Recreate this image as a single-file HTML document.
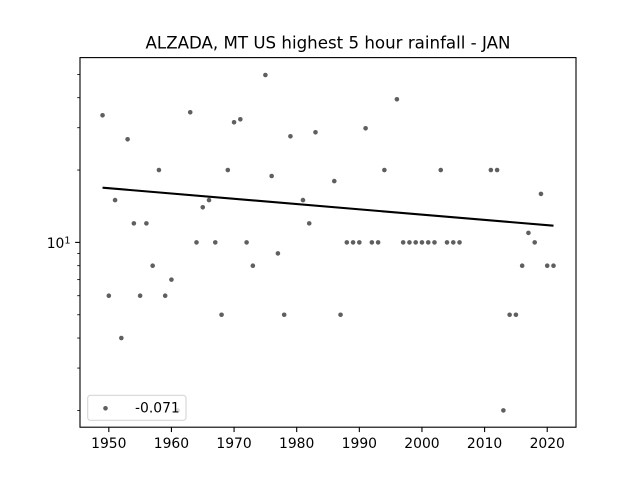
<!DOCTYPE html>
<html><head><meta charset="utf-8"><style>
html,body{margin:0;padding:0;background:#fff;}
svg{display:block;}
text{font-family:"DejaVu Sans","Liberation Sans",sans-serif;fill:#000;}
</style></head><body>
<svg width="640" height="480" viewBox="0 0 640 480" xmlns="http://www.w3.org/2000/svg">
<rect width="640" height="480" fill="#fff"/>
<text x="328" y="48.5" font-size="16.67" text-anchor="middle">ALZADA, MT US highest 5 hour rainfall - JAN</text>
<g fill="#5f5f5f">
<circle cx="102.55" cy="115.3" r="2.3"/>
<circle cx="108.81" cy="295.72" r="2.3"/>
<circle cx="115.08" cy="200.07" r="2.3"/>
<circle cx="121.34" cy="338.04" r="2.3"/>
<circle cx="127.60" cy="139.3" r="2.3"/>
<circle cx="133.86" cy="223.37" r="2.3"/>
<circle cx="140.13" cy="295.72" r="2.3"/>
<circle cx="146.39" cy="223.37" r="2.3"/>
<circle cx="152.65" cy="265.69" r="2.3"/>
<circle cx="158.92" cy="170.05" r="2.3"/>
<circle cx="165.18" cy="295.72" r="2.3"/>
<circle cx="171.44" cy="279.63" r="2.3"/>
<circle cx="177.70" cy="410.40" r="2.3"/>
<circle cx="190.23" cy="112.3" r="2.3"/>
<circle cx="196.49" cy="242.40" r="2.3"/>
<circle cx="202.76" cy="207.3" r="2.3"/>
<circle cx="209.02" cy="200.07" r="2.3"/>
<circle cx="215.28" cy="242.40" r="2.3"/>
<circle cx="221.55" cy="314.75" r="2.3"/>
<circle cx="227.81" cy="170.05" r="2.3"/>
<circle cx="234.07" cy="122.3" r="2.3"/>
<circle cx="240.33" cy="119.3" r="2.3"/>
<circle cx="246.60" cy="242.40" r="2.3"/>
<circle cx="252.86" cy="265.69" r="2.3"/>
<circle cx="265.39" cy="75.0" r="2.3"/>
<circle cx="271.65" cy="176.0" r="2.3"/>
<circle cx="277.91" cy="253.39" r="2.3"/>
<circle cx="284.18" cy="314.75" r="2.3"/>
<circle cx="290.44" cy="136.3" r="2.3"/>
<circle cx="302.97" cy="200.07" r="2.3"/>
<circle cx="309.23" cy="223.37" r="2.3"/>
<circle cx="315.49" cy="132.3" r="2.3"/>
<circle cx="334.28" cy="181.1" r="2.3"/>
<circle cx="340.54" cy="314.75" r="2.3"/>
<circle cx="346.81" cy="242.40" r="2.3"/>
<circle cx="353.07" cy="242.40" r="2.3"/>
<circle cx="359.33" cy="242.40" r="2.3"/>
<circle cx="365.60" cy="128.3" r="2.3"/>
<circle cx="371.86" cy="242.40" r="2.3"/>
<circle cx="378.12" cy="242.40" r="2.3"/>
<circle cx="384.38" cy="170.05" r="2.3"/>
<circle cx="396.91" cy="99.3" r="2.3"/>
<circle cx="403.17" cy="242.40" r="2.3"/>
<circle cx="409.44" cy="242.40" r="2.3"/>
<circle cx="415.70" cy="242.40" r="2.3"/>
<circle cx="421.96" cy="242.40" r="2.3"/>
<circle cx="428.23" cy="242.40" r="2.3"/>
<circle cx="434.49" cy="242.40" r="2.3"/>
<circle cx="440.75" cy="170.05" r="2.3"/>
<circle cx="447.01" cy="242.40" r="2.3"/>
<circle cx="453.28" cy="242.40" r="2.3"/>
<circle cx="459.54" cy="242.40" r="2.3"/>
<circle cx="490.85" cy="170.05" r="2.3"/>
<circle cx="497.12" cy="170.05" r="2.3"/>
<circle cx="503.38" cy="410.40" r="2.3"/>
<circle cx="509.64" cy="314.75" r="2.3"/>
<circle cx="515.91" cy="314.75" r="2.3"/>
<circle cx="522.17" cy="265.69" r="2.3"/>
<circle cx="528.43" cy="232.9" r="2.3"/>
<circle cx="534.70" cy="242.40" r="2.3"/>
<circle cx="540.96" cy="193.9" r="2.3"/>
<circle cx="547.22" cy="265.69" r="2.3"/>
<circle cx="553.49" cy="265.69" r="2.3"/>
</g>
<line x1="102.55" y1="187.7" x2="553.49" y2="225.7" stroke="#000" stroke-width="2.08"/>
<rect x="87.7" y="395.3" width="98.3" height="25" rx="2.8" ry="2.8" fill="#fff" fill-opacity="0.8" stroke="#cccccc" stroke-opacity="0.8" stroke-width="1.1"/>
<circle cx="105.5" cy="408.3" r="2.3" fill="#5f5f5f"/>
<text x="135" y="412.6" font-size="13.89">-0.071</text>
<rect x="80" y="57.6" width="496" height="369.6" fill="none" stroke="#000" stroke-width="1.11"/>
<g stroke="#000" stroke-width="1.11">
<line x1="108.81" y1="427.2" x2="108.81" y2="432.06"/>
<line x1="171.44" y1="427.2" x2="171.44" y2="432.06"/>
<line x1="234.07" y1="427.2" x2="234.07" y2="432.06"/>
<line x1="296.70" y1="427.2" x2="296.70" y2="432.06"/>
<line x1="359.33" y1="427.2" x2="359.33" y2="432.06"/>
<line x1="421.96" y1="427.2" x2="421.96" y2="432.06"/>
<line x1="484.59" y1="427.2" x2="484.59" y2="432.06"/>
<line x1="547.22" y1="427.2" x2="547.22" y2="432.06"/>
</g>
<g font-size="13.89" text-anchor="middle">
<text x="108.81" y="448.2">1950</text>
<text x="171.44" y="448.2">1960</text>
<text x="234.07" y="448.2">1970</text>
<text x="296.70" y="448.2">1980</text>
<text x="359.33" y="448.2">1990</text>
<text x="421.96" y="448.2">2000</text>
<text x="484.59" y="448.2">2010</text>
<text x="547.22" y="448.2">2020</text>
</g>
<line x1="75.14" y1="242.40" x2="80" y2="242.40" stroke="#000" stroke-width="1.11"/>
<g stroke="#000" stroke-width="0.83">
<line x1="77.22" y1="410.40" x2="80" y2="410.40"/>
<line x1="77.22" y1="368.07" x2="80" y2="368.07"/>
<line x1="77.22" y1="338.04" x2="80" y2="338.04"/>
<line x1="77.22" y1="314.75" x2="80" y2="314.75"/>
<line x1="77.22" y1="295.72" x2="80" y2="295.72"/>
<line x1="77.22" y1="279.63" x2="80" y2="279.63"/>
<line x1="77.22" y1="265.69" x2="80" y2="265.69"/>
<line x1="77.22" y1="253.39" x2="80" y2="253.39"/>
<line x1="77.22" y1="170.05" x2="80" y2="170.05"/>
<line x1="77.22" y1="127.72" x2="80" y2="127.72"/>
<line x1="77.22" y1="97.69" x2="80" y2="97.69"/>
<line x1="77.22" y1="74.40" x2="80" y2="74.40"/>
</g>
<text x="46.7" y="248" font-size="13.89">10</text>
<text x="64.4" y="243.5" font-size="9.7">1</text>
</svg>
</body></html>
